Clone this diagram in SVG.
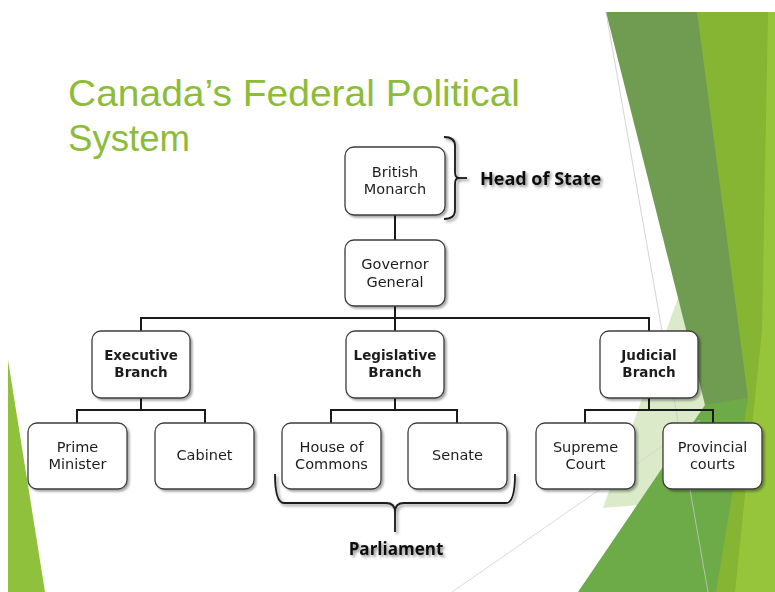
<svg xmlns="http://www.w3.org/2000/svg" width="775" height="592" viewBox="0 0 775 592">
<defs>
<filter id="sh" x="-10%" y="-10%" width="130%" height="130%">
<feGaussianBlur in="SourceAlpha" stdDeviation="1.2"/>
<feOffset dx="1.5" dy="1.5" result="o"/>
<feComponentTransfer><feFuncA type="linear" slope="0.35"/></feComponentTransfer>
<feMerge><feMergeNode/><feMergeNode in="SourceGraphic"/></feMerge>
</filter>
<filter id="tsh" x="-10%" y="-30%" width="130%" height="170%">
<feGaussianBlur in="SourceAlpha" stdDeviation="1.5"/>
<feOffset dx="2" dy="2" result="o"/>
<feComponentTransfer><feFuncA type="linear" slope="0.45"/></feComponentTransfer>
<feMerge><feMergeNode/><feMergeNode in="SourceGraphic"/></feMerge>
</filter>
</defs>
<style>
.box{fill:#fff;stroke:#3c3c3c;stroke-width:1.3}
.t{font-family:"DejaVu Sans","Open Sans",sans-serif;font-size:14.5px;fill:#1e1e1e;text-anchor:middle}
.b{font-weight:bold;font-size:13.5px}
.conn{stroke:#1a1a1a;stroke-width:2;fill:none}
.br{stroke:#1a1a1a;stroke-width:1.8;fill:none}
.lbl{font-family:"Open Sans","DejaVu Sans",sans-serif;font-weight:bold;fill:#111}
.title{font-family:"Liberation Sans",Arial,sans-serif;font-size:37px;fill:#8cbc3a}
</style>
<rect width="775" height="592" fill="#fff"/>
<g id="background">
<polygon points="8,360 45,592 8,592" fill="#8fc13d"/>
<polygon points="697,12 775,12 775,592 700,592" fill="#86b433"/>
<polygon points="768,12 775,12 775,592 735,592 762,330" fill="#96c43b"/>
<polygon points="685,278 706,405 640,505 603,508" fill="#dbeac8"/>
<polygon points="578,592 705,405 748,398 716,592" fill="#6cab47"/>
<polygon points="606,12 697,12 748,398 705,405" fill="#6f9c50"/>
<line x1="606" y1="12" x2="708" y2="592" stroke="#c8c8c8" stroke-width="0.8"/>
<line x1="452" y1="592" x2="700" y2="420" stroke="#d0d0d0" stroke-width="0.8"/>
</g>
<g id="title">
<text class="title" x="68" y="106" textLength="452" lengthAdjust="spacingAndGlyphs">Canada’s Federal Political</text>
<text class="title" x="68" y="151" textLength="122" lengthAdjust="spacingAndGlyphs">System</text>
</g>
<g id="connectors">
<line class="conn" x1="395" y1="215" x2="395" y2="240"/>
<line class="conn" x1="395" y1="306" x2="395" y2="331"/>
<polyline class="conn" points="141,331 141,318 649,318 649,331"/>
<polyline class="conn" points="141,398 141,410"/>
<polyline class="conn" points="77,423 77,410 205,410 205,423"/>
<polyline class="conn" points="395,398 395,410"/>
<polyline class="conn" points="331,423 331,410 457,410 457,423"/>
<polyline class="conn" points="649,398 649,410"/>
<polyline class="conn" points="585,423 585,410 713,410 713,423"/>
</g>
<g id="british-monarch" filter="url(#sh)">
<rect class="box" x="345" y="147" width="100" height="68" rx="9"/>
<text class="t" x="395" y="177">British<tspan x="395" dy="17">Monarch</tspan></text>
</g>
<g id="governor-general" filter="url(#sh)">
<rect class="box" x="345" y="240" width="100" height="66" rx="9"/>
<text class="t" x="395" y="269">Governor<tspan x="395" dy="18">General</tspan></text>
</g>
<g id="executive-branch" filter="url(#sh)">
<rect class="box" x="92" y="331" width="98" height="67" rx="9"/>
<text class="t b" x="141" y="360">Executive<tspan x="141" dy="17">Branch</tspan></text>
</g>
<g id="legislative-branch" filter="url(#sh)">
<rect class="box" x="346" y="331" width="98" height="67" rx="9"/>
<text class="t b" x="395" y="360">Legislative<tspan x="395" dy="17">Branch</tspan></text>
</g>
<g id="judicial-branch" filter="url(#sh)">
<rect class="box" x="600" y="331" width="98" height="67" rx="9"/>
<text class="t b" x="649" y="360">Judicial<tspan x="649" dy="17">Branch</tspan></text>
</g>
<g id="prime-minister" filter="url(#sh)">
<rect class="box" x="28" y="423" width="99" height="66" rx="9"/>
<text class="t" x="77.5" y="452">Prime<tspan x="77.5" dy="17">Minister</tspan></text>
</g>
<g id="cabinet" filter="url(#sh)">
<rect class="box" x="155" y="423" width="99" height="66" rx="9"/>
<text class="t" x="204.5" y="460">Cabinet</text>
</g>
<g id="house-of-commons" filter="url(#sh)">
<rect class="box" x="282" y="423" width="99" height="66" rx="9"/>
<text class="t" x="331.5" y="452">House of<tspan x="331.5" dy="17">Commons</tspan></text>
</g>
<g id="senate" filter="url(#sh)">
<rect class="box" x="408" y="423" width="99" height="66" rx="9"/>
<text class="t" x="457.5" y="460">Senate</text>
</g>
<g id="supreme-court" filter="url(#sh)">
<rect class="box" x="536" y="423" width="99" height="66" rx="9"/>
<text class="t" x="585.5" y="452">Supreme<tspan x="585.5" dy="17">Court</tspan></text>
</g>
<g id="provincial-courts" filter="url(#sh)">
<rect class="box" x="663" y="423" width="99" height="66" rx="9"/>
<text class="t" x="712.5" y="452">Provincial<tspan x="712.5" dy="17">courts</tspan></text>
</g>
<g id="head-of-state" filter="url(#tsh)">
<path class="br" d="M444,137 Q455,137 455,146 L455,172 Q455,178 459,178 Q455,178 455,184 L455,210 Q455,219 444,219"/>
<line class="br" x1="458" y1="178" x2="467" y2="178"/>
<text class="lbl" x="480" y="185" font-size="18">Head of State</text>
</g>
<g id="parliament" filter="url(#tsh)">
<path class="br" d="M275,474 Q275,503 284,503 L386,503 Q395,503 395,512 L395,532 M395,512 Q395,503 404,503 L506,503 Q515,503 515,474"/>
<text class="lbl" x="396" y="555" font-size="17" text-anchor="middle">Parliament</text>
</g>
</svg>
